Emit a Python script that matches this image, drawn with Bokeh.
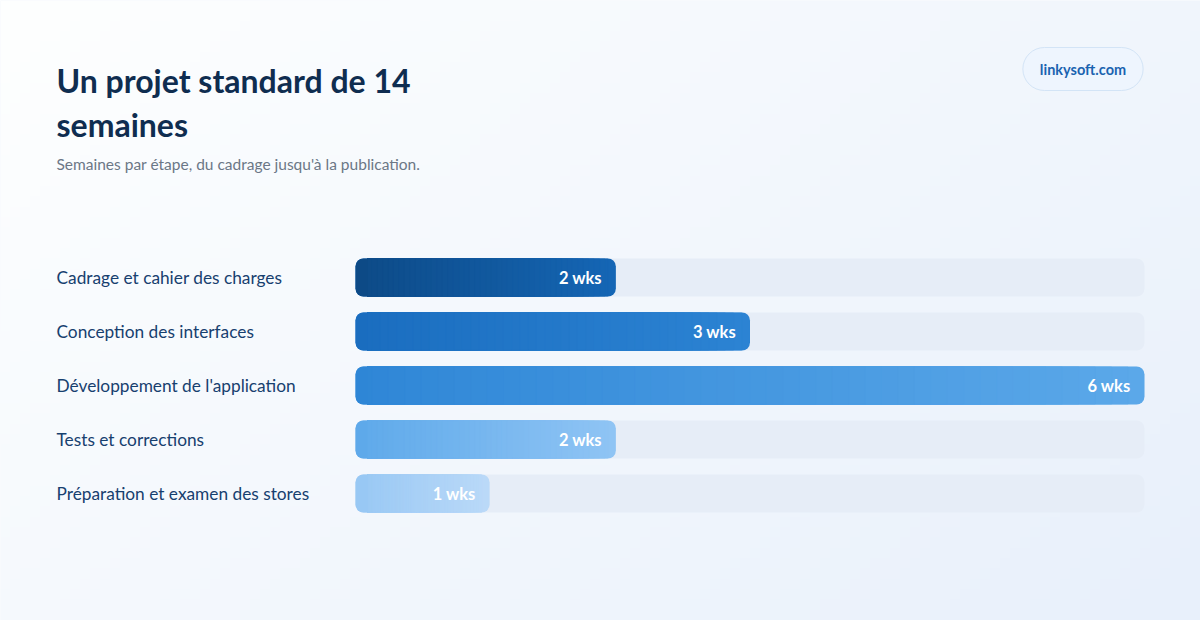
import numpy as np
from bokeh.plotting import figure
from bokeh.models import Range1d, Label
from bokeh.core.properties import value
from bokeh.embed import file_html
from bokeh.resources import INLINE

# data
stages = [
    "Cadrage et cahier des charges",
    "Conception des interfaces",
    "Développement de l'application",
    "Tests et corrections",
    "Préparation et examen des stores",
]
weeks = [2, 3, 6, 2, 1]
max_weeks = 6
title_lines = ["Un projet standard de 14", "semaines"]
subtitle = "Semaines par étape, du cadrage jusqu'à la publication."
badge = "linkysoft.com"

# gradient colours of every bar (left -> right)
start_colors = ["#0d4a86", "#1a6dbf", "#2e86d6", "#5ea9ea", "#98c8f4"]
end_colors = ["#1566b5", "#2c83d3", "#5ba8e9", "#8fc4f4", "#bad9f8"]

W, H = 1200, 620
bar_x0, bar_x1 = 355, 1144      # px of 0 and max_weeks
row0, row_step = 277, 54        # px of first row centre
ppw = (bar_x1 - bar_x0) / max_weeks

x_range = Range1d(-bar_x0 / ppw, (W - bar_x0) / ppw)
y_range = Range1d(-(H - row0) / row_step, row0 / row_step)


def dx(px):
    return (px - bar_x0) / ppw


def dy(py):
    return -(py - row0) / row_step


def hex_rgb(h):
    return np.array([int(h[i:i + 2], 16) for i in (1, 3, 5)], dtype=float)


def mix(a, b, t):
    c = hex_rgb(a) * (1 - t) + hex_rgb(b) * t
    return "#%02x%02x%02x" % tuple(int(round(v)) for v in c)


p = figure(width=W, height=H, x_range=x_range, y_range=y_range,
           x_axis_location=None, y_axis_location=None,
           toolbar_location=None, output_backend="svg", min_border=0)
p.grid.visible = False
p.outline_line_color = None
p.background_fill_color = "#f4f8fd"
p.border_fill_color = "#f4f8fd"

# soft background gradient
nx, ny = 120, 60
u = np.linspace(0, 1, nx)[None, :]
v = np.linspace(1, 0, ny)[:, None]   # row 0 is at the bottom
t = np.clip(0.62 * u + 0.38 * v, 0, 1)
c0, c1 = hex_rgb("#feffff"), hex_rgb("#e8f0fb")
img = np.empty((ny, nx), dtype=np.uint32)
view = img.view(dtype=np.uint8).reshape((ny, nx, 4))
for k in range(3):
    view[:, :, k] = (c0[k] * (1 - t) + c1[k] * t).astype(np.uint8)
view[:, :, 3] = 255
p.image_rgba(image=[img], x=x_range.start, y=y_range.start,
             dw=x_range.end - x_range.start, dh=y_range.end - y_range.start)

rows = [-i for i in range(len(stages))]
bar_h = 38 / row_step

# bar length is a whole percentage of the track
pct = np.round(100 * np.array(weeks, dtype=float) / max_weeks)
w = pct / 100 * max_weeks

# tracks
p.hbar(y=rows, left=0, right=max_weeks, height=bar_h, fill_color="#e6edf7",
       line_color=None, border_radius=8)

# gradient bars: rounded full bar, square inner layers, rounded left cap
N = 48
cap = 12 / ppw
rad = 8 / ppw
p.hbar(y=rows, left=0, right=w, height=bar_h, fill_color=end_colors,
       line_color=None, border_radius=8)
for k in range(1, N):
    frac = (N - k) / N
    right = np.clip(w * frac, cap, w - rad)
    cols = [mix(s, e, frac) for s, e in zip(start_colors, end_colors)]
    p.hbar(y=rows, left=cap, right=right, height=bar_h - 1 / row_step,
           fill_color=cols, line_color=cols, line_width=0.6)
p.hbar(y=rows, left=0, right=cap, height=bar_h, fill_color=start_colors,
       line_color=None, border_radius=(8, 0, 0, 8))

# value labels
p.text(x=w, y=rows, text=[f"{n} wks" for n in weeks], x_offset=-14,
       text_align="right", text_baseline="middle", text_color="white",
       text_font=value("Lato"), text_font_style="bold", text_font_size="16.5px")

# stage labels
p.text(x=[dx(56)] * len(stages), y=rows, text=stages, text_align="left",
       text_baseline="middle", text_color="#17406f", text_font=value("Lato"),
       text_font_size="17.3px")

# titles
for line, base in zip(title_lines, [80, 124]):
    p.add_layout(Label(x=dx(56), y=dy(base), text=line, text_font="Lato",
                       text_font_style="bold", text_font_size="32px",
                       text_color="#0f2d50", text_baseline="alphabetic"))
p.add_layout(Label(x=dx(56), y=dy(163), text=subtitle, text_font="Lato",
                   text_font_size="15.5px", text_color="#6b7786",
                   text_baseline="alphabetic"))

# badge
p.add_layout(Label(x=dx(1082.5), y=dy(68.5), text=badge, text_font="Lato",
                   text_font_style="bold", text_font_size="14.5px",
                   text_color="#1a63b0", text_align="center",
                   text_baseline="middle",
                   background_fill_color="#eef5fe",
                   border_line_color="#d3e4f6", border_line_width=1,
                   padding=dict(left=17, right=17, top=13, bottom=13),
                   border_radius=22))

open("out.html", "w").write(file_html(p, INLINE))
